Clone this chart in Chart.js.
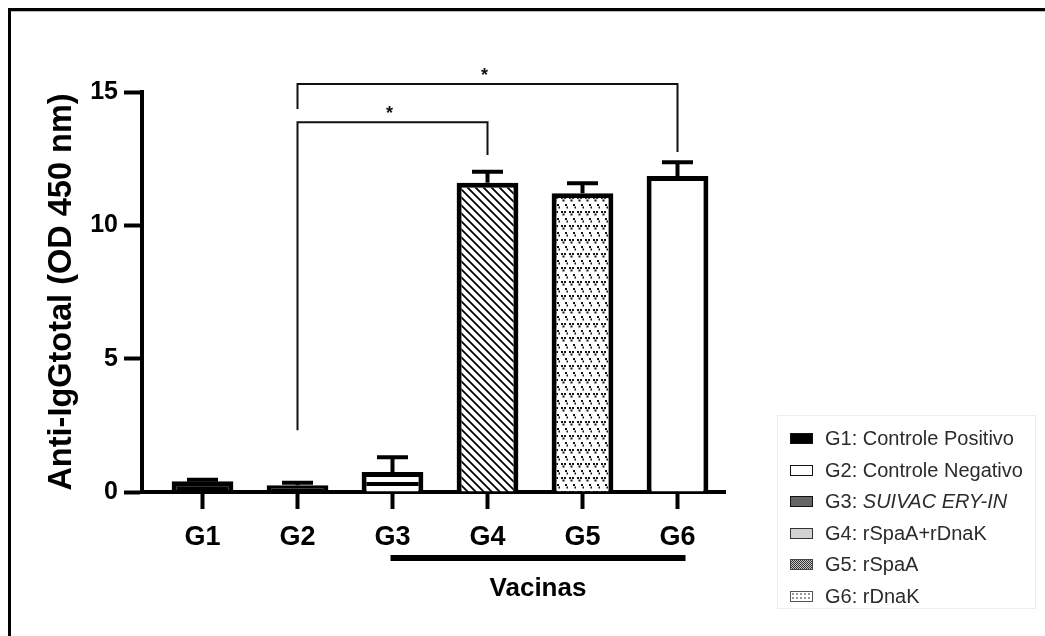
<!DOCTYPE html>
<html>
<head>
<meta charset="utf-8">
<script src="https://cdn.jsdelivr.net/npm/chart.js@4.4.0/dist/chart.umd.min.js"></script>
<style>
  html, body { margin: 0; padding: 0; background: #fff; }
  #wrap { position: relative; width: 1045px; height: 636px; overflow: hidden; }
  #chart { position: absolute; left: 0; top: 0; }
  #legend {
    position: absolute; left: 777px; top: 415px; width: 259px; height: 194px;
    border: 1px solid #ececec; box-sizing: border-box;
    font-family: "Liberation Sans", Arial, sans-serif; font-size: 20px; color: #2b2b2b;
  }
  .item { position: absolute; left: 12px; height: 24px; line-height: 24px; white-space: nowrap; }
  .sw { position: absolute; left: 0; top: 7px; width: 23px; height: 11px; box-sizing: border-box; border: 1.5px solid #111; }
  .lbl { position: absolute; left: 35px; top: 0; }
  .s0 { background: #000; }
  .s1 { background: #fff; }
  .s2 { background: #666; }
  .s3 { background: #d2d2d2; border-color: #333; }
  .s4 { background: repeating-conic-gradient(#333 0 25%, #c8c8c8 0 50%) 0 0 / 2px 2px; border-color: #444; }
  .s5 { background: #fff radial-gradient(#999 0.8px, transparent 1px) 0 0 / 4px 4px; border-color: #555; }
</style>
</head>
<body>
<div id="wrap">
  <canvas id="chart" width="1045" height="636"></canvas>
  <div id="legend"></div>
</div>
<script>
"use strict";

const categories = ["G1", "G2", "G3", "G4", "G5", "G6"];
const means = [0.40, 0.25, 0.75, 11.6, 11.2, 11.85];
const errors = [0.06, 0.10, 0.55, 0.41, 0.38, 0.52];
const yTicks = [0, 5, 10, 15];
const legendNames = [
  "Controle Positivo", "Controle Negativo", "SUIVAC ERY-IN",
  "rSpaA+rDnaK", "rSpaA", "rDnaK",
];
const vaccineRange = ["G3", "G6"];
const vaccineLabel = "Vacinas";
const brackets = [
  { from: "G2", to: "G4", level: 13.87, leftEnd: 2.32, rightEnd: 12.64, label: "*" },
  { from: "G2", to: "G6", level: 15.3, leftEnd: 14.36, rightEnd: 12.75, label: "*" },
];

const FONT = '"Liberation Sans", Arial, sans-serif';

function tile(w, h, draw) {
  const c = document.createElement("canvas");
  c.width = w;
  c.height = h;
  const g = c.getContext("2d");
  g.fillStyle = "#fff";
  g.fillRect(0, 0, w, h);
  draw(g);
  return document.getElementById("chart").getContext("2d").createPattern(c, "repeat");
}

// GraphPad-like fills
const stripes = tile(1, 12, (g) => {
  g.fillStyle = "#000";
  g.fillRect(0, 2, 1, 4);
});
const hatch = tile(8, 8, (g) => {
  g.strokeStyle = "#000";
  g.lineWidth = 1.8;
  g.beginPath();
  g.moveTo(-1, -1); g.lineTo(9, 9);
  g.moveTo(-1, 7); g.lineTo(1, 9);
  g.moveTo(7, -1); g.lineTo(9, 1);
  g.stroke();
});
const dots = tile(8, 14, (g) => {
  g.fillStyle = "#111";
  [[1, 1], [5, 8]].forEach(([x, y]) => {
    g.fillRect(x, y, 2, 2);
    g.fillRect(x + 3, y, 2, 2);
    g.fillRect(x + 1.5, y + 2.5, 2, 2);
  });
});
const fills = ["#000", "#000", stripes, hatch, dots, "#fff"];

function xOf(scale, name) {
  return scale.getPixelForValue(categories.indexOf(name) + 1);
}

const decorations = {
  id: "decorations",
  beforeDraw(chart) {
    const ctx = chart.ctx;
    ctx.save();
    ctx.fillStyle = "#fff";
    ctx.fillRect(0, 0, chart.width, chart.height);
    ctx.fillStyle = "#000";
    ctx.fillRect(8, 8, chart.width - 8, 3);
    ctx.fillRect(8, 8, 3, chart.height - 8);
    ctx.fillStyle = "#bbb";
    ctx.fillRect(11, 11, chart.width - 11, 1);
    ctx.restore();
  },
  afterDatasetsDraw(chart) {
    const ctx = chart.ctx;
    const y = chart.scales.y;
    const meta = chart.getDatasetMeta(0);
    ctx.save();
    ctx.strokeStyle = "#000";
    ctx.lineWidth = 4;
    meta.data.forEach((bar, i) => {
      const top = y.getPixelForValue(means[i] + errors[i]);
      ctx.beginPath();
      ctx.moveTo(bar.x, bar.y);
      ctx.lineTo(bar.x, top);
      ctx.moveTo(bar.x - 15.5, top);
      ctx.lineTo(bar.x + 15.5, top);
      ctx.stroke();
    });
    ctx.restore();
  },
  afterDraw(chart) {
    const ctx = chart.ctx;
    const x = chart.scales.x;
    const y = chart.scales.y;
    ctx.save();
    // significance brackets
    ctx.strokeStyle = "#111";
    ctx.lineWidth = 2;
    ctx.fillStyle = "#111";
    ctx.font = "bold 18px " + FONT;
    ctx.textAlign = "center";
    ctx.textBaseline = "middle";
    brackets.forEach((b) => {
      const x1 = xOf(x, b.from);
      const x2 = xOf(x, b.to);
      const yl = y.getPixelForValue(b.level);
      ctx.beginPath();
      ctx.moveTo(x1, y.getPixelForValue(b.leftEnd));
      ctx.lineTo(x1, yl);
      ctx.lineTo(x2, yl);
      ctx.lineTo(x2, y.getPixelForValue(b.rightEnd));
      ctx.stroke();
      ctx.fillText(b.label, (x1 + x2) / 2 - 3, yl - 8);
    });
    // "Vacinas" group bar
    const xa = xOf(x, vaccineRange[0]) - 2;
    const xb = xOf(x, vaccineRange[1]) + 8;
    ctx.fillStyle = "#000";
    ctx.fillRect(xa, 555, xb - xa, 6);
    ctx.font = "bold 26px " + FONT;
    ctx.fillText(vaccineLabel, (xa + xb) / 2, 589);
    ctx.restore();
  },
};

function buildLegend() {
  const box = document.getElementById("legend");
  legendNames.forEach((name, i) => {
    const item = document.createElement("div");
    item.className = "item";
    item.style.top = (10 + i * 31.6) + "px";
    const sw = document.createElement("span");
    sw.className = "sw s" + i;
    const lbl = document.createElement("span");
    lbl.className = "lbl";
    lbl.appendChild(document.createTextNode(categories[i] + ": "));
    const nm = document.createElement("span");
    nm.textContent = name;
    if (i === 2) {
      nm.style.fontStyle = "italic";
    }
    lbl.appendChild(nm);
    item.appendChild(sw);
    item.appendChild(lbl);
    box.appendChild(item);
  });
}

function renderChart() {
  Chart.defaults.font.family = FONT;
  Chart.defaults.color = "#000";
  new Chart(document.getElementById("chart"), {
    type: "bar",
    data: {
      datasets: [{
        data: means.map((v, i) => ({ x: i + 1, y: v })),
        backgroundColor: fills,
        borderColor: "#000",
        borderWidth: 5,
        borderSkipped: "bottom",
        barPercentage: 0.65,
        categoryPercentage: 1,
      }],
    },
    options: {
      responsive: false,
      animation: false,
      layout: { padding: { top: 92, right: 320, bottom: 0, left: 0 } },
      plugins: { legend: { display: false }, tooltip: { enabled: false } },
      scales: {
        x: {
          type: "linear",
          offset: false,
          min: 0.5 - 13 / 95,
          max: 6.5,
          z: 1,
          afterFit: (s) => { s.height = 144; },
          afterBuildTicks: (s) => { s.ticks = categories.map((_, i) => ({ value: i + 1 })); },
          border: { display: true, color: "#000", width: 4 },
          grid: { display: true, offset: false, drawOnChartArea: false, drawTicks: true, tickLength: 17, tickWidth: 4, tickColor: "#000" },
          ticks: {
            font: { size: 27, weight: "bold" },
            padding: 12,
            maxRotation: 0,
            callback: (v) => categories[v - 1] || "",
          },
        },
        y: {
          min: 0,
          max: 15,
          z: 1,
          afterFit: (s) => { s.width = 142; },
          afterBuildTicks: (s) => { s.ticks = yTicks.map((v) => ({ value: v })); },
          border: { display: true, color: "#000", width: 4 },
          grid: { display: true, drawOnChartArea: false, drawTicks: true, tickLength: 18, tickWidth: 4, tickColor: "#000" },
          ticks: { font: { size: 25, weight: "bold" }, padding: 6 },
          title: {
            display: true,
            text: "Anti-IgGtotal (OD 450 nm)",
            font: { size: 32.5, weight: "bold" },
            padding: { top: 43, bottom: 0 },
          },
        },
      },
    },
    plugins: [decorations],
  });
}

document.addEventListener("DOMContentLoaded", () => {
  buildLegend();
  renderChart();
});
</script>
</body>
</html>
